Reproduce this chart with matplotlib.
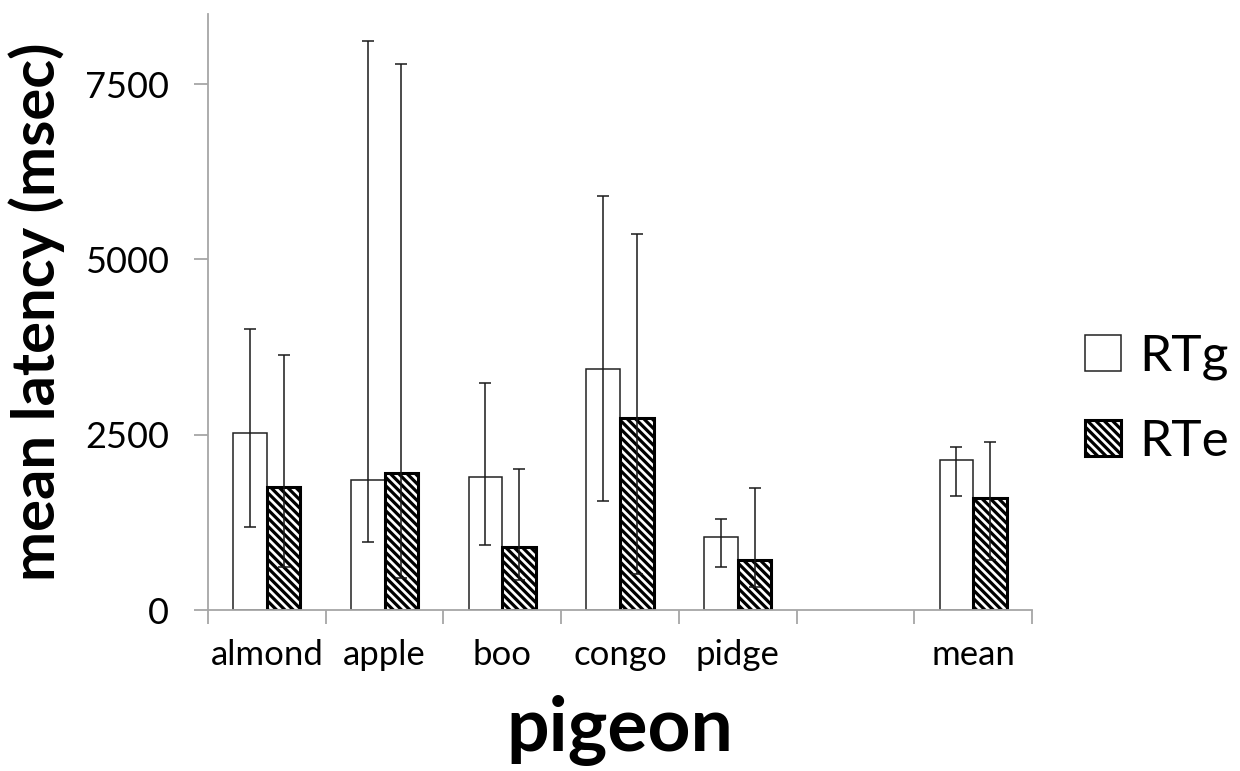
import numpy as np
import matplotlib.pyplot as plt
import matplotlib.patches as mpatches

plt.rcParams['font.family'] = ['Lato', 'DejaVu Sans']
plt.rcParams['hatch.linewidth'] = 2.3

# data
pigeons = ['almond', 'apple', 'boo', 'congo', 'pidge', '', 'mean']
rtg_mean = [2528, 1849, 1901, 3441, 1046, np.nan, 2139]
rtg_upper = [4003, 8113, 3241, 5908, 1302, np.nan, 2320]
rtg_lower = [1188, 970, 931, 1559, 609, np.nan, 1630]
rte_mean = [1750, 1953, 898, 2733, 708, np.nan, 1602]
rte_upper = [3641, 7790, 2011, 5361, 1735, np.nan, 2396]
rte_lower = [609, 461, 423, 518, 333, np.nan, 708]

fig = plt.figure(figsize=(12.4, 7.71), dpi=100)
ax = fig.add_axes([0.1677, 0.2088, 0.6646, 0.773])

x = np.arange(len(pigeons))
w = 1 / 3.5
HATCH = '\\\\\\\\'

rtg_mean = np.array(rtg_mean)
rte_mean = np.array(rte_mean)
rtg_err = [rtg_mean - np.array(rtg_lower), np.array(rtg_upper) - rtg_mean]
rte_err = [rte_mean - np.array(rte_lower), np.array(rte_upper) - rte_mean]

ax.bar(x - w / 2, rtg_mean, w, color='white', edgecolor='#222222', linewidth=1.1, zorder=2)
ax.bar(x + w / 2, rte_mean, w, color='white', edgecolor='black', linewidth=2.2,
       hatch=HATCH, zorder=2)
ax.errorbar(x - w / 2, rtg_mean, yerr=rtg_err, fmt='none', ecolor='#1a1a1a',
            elinewidth=1.1, capsize=4.5, capthick=1.1, zorder=3)
ax.errorbar(x + w / 2, rte_mean, yerr=rte_err, fmt='none', ecolor='#1a1a1a',
            elinewidth=1.1, capsize=4.5, capthick=1.1, zorder=3)

ax.set_xlim(-0.5, len(pigeons) - 0.5)
ax.set_ylim(0, 8500)
ax.set_yticks([0, 2500, 5000, 7500])
ax.set_xticks(x)
ax.set_xticklabels(pigeons, fontsize=25)
ax.set_xticks(np.arange(-0.5, len(pigeons)), minor=True)
ax.tick_params(axis='x', which='major', length=0, pad=21)
ax.tick_params(axis='x', which='minor', length=10, width=1.3, color='#a6a6a6', direction='out')
ax.tick_params(axis='y', length=10, width=1.3, color='#a6a6a6', labelsize=26, pad=18)

for s in ['top', 'right']:
    ax.spines[s].set_visible(False)
for s in ['left', 'bottom']:
    ax.spines[s].set_color('#a6a6a6')
    ax.spines[s].set_linewidth(1.3)

ax.set_ylabel('mean latency (msec)', fontsize=43, fontweight='bold')
ax.yaxis.set_label_coords(-0.174, 0.5)
ax.set_xlabel('pigeon', fontsize=54, fontweight='bold')
ax.xaxis.set_label_coords(0.5, -0.143)

handles = [mpatches.Patch(facecolor='white', edgecolor='#222222', linewidth=1.1, label='RTg'),
           mpatches.Patch(facecolor='white', edgecolor='black', linewidth=2.2,
                          hatch=HATCH, label='RTe')]
fig.legend(handles=handles, loc='center left', bbox_to_anchor=(0.875, 0.482),
           frameon=False, fontsize=37, handlelength=0.7, handleheight=0.7,
           handletextpad=0.35, labelspacing=0.75, borderaxespad=0, borderpad=0)

fig.savefig('out.png', dpi=100)
